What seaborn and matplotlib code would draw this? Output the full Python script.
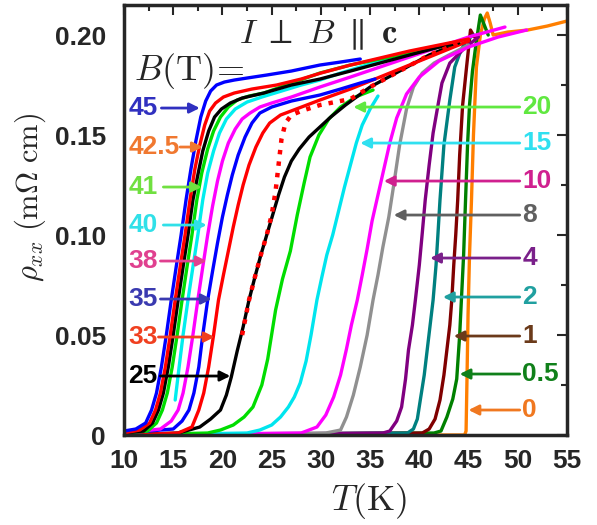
import matplotlib
matplotlib.use("Agg")
import matplotlib.pyplot as plt
import numpy as np
import pandas as pd
import seaborn as sns

# curves: T in K, rho in mOhm cm
t_45 = [10, 11.2, 12.2, 12.8, 13.3, 13.8, 14.3, 14.8, 15.3, 15.8, 16.3, 16.8, 17.3, 17.8, 18.3, 18.8, 19.4, 20.2, 21.2, 22.5, 24.5, 27, 29.9, 32, 34]
r_45 = [.002, .003, .006, .0125, .021, .034, .05, .0675, .084, .1, .1175, .133, .147, .159, .167, .172, .175, .1765, .1775, .1785, .18, .182, .185, .1865, .188]
t_425 = [10, 11.6, 12.6, 13.2, 13.7, 14.2, 14.7, 15.2, 15.7, 16.2, 16.7, 17.2, 17.7, 18.2, 18.7, 19.3, 20.1, 21.2, 23, 25.5, 28, 30, 33, 36, 39, 42, 45]
r_425 = [.001, .0025, .006, .0125, .021, .034, .05, .0675, .084, .1, .1175, .133, .145, .155, .162, .166, .169, .171, .173, .175, .178, .181, .185, .1885, .192, .195, .198]
t_blk = [10, 12.0, 12.9, 13.5, 14.0, 14.5, 15.0, 15.5, 16.0, 16.5, 17.0, 17.5, 18.0, 18.6, 19.2, 19.9, 20.8, 22, 24.2, 27, 29.9, 33, 36, 39, 42, 44]
r_blk = [.001, .002, .006, .0125, .021, .034, .05, .0675, .084, .1, .1175, .13, .142, .152, .159, .163, .166, .1685, .171, .175, .178, .182, .186, .19, .194, .196]
t_41 = [10, 12.4, 13.3, 13.9, 14.4, 14.9, 15.4, 15.9, 16.4, 16.9, 17.4, 17.9, 18.5, 19.1, 19.8, 20.6, 21.5, 22.7, 24.2, 26.5, 29.9, 33, 36, 39, 42, 44]
r_41 = [.001, .002, .006, .0125, .021, .034, .05, .0675, .084, .1, .1175, .131, .143, .152, .159, .164, .1675, .1695, .171, .175, .181, .185, .188, .191, .194, .196]
t_40 = [15.2, 15.6, 16.0, 16.5, 17.0, 17.5, 18.0, 18.5, 19.1, 19.7, 20.4, 21.3, 22.5, 24, 26, 28, 29.9, 32, 34, 36, 37.3]
r_40 = [.0175, .034, .05, .0675, .084, .1, .1175, .131, .142, .151, .158, .163, .1665, .169, .172, .175, .1775, .181, .184, .187, .189]
t_38 = [10, 13.7, 14.8, 15.5, 16.0, 16.5, 17.0, 17.5, 18.0, 18.5, 19.0, 19.5, 20.0, 20.6, 21.3, 22.0, 22.8, 23.8, 25, 27, 29.9, 33, 36, 39, 42, 45, 48.7]
r_38 = [.001, .003, .007, .0125, .021, .034, .05, .0675, .084, .1, .1145, .127, .137, .146, .153, .158, .161, .164, .166, .169, .174, .179, .184, .189, .194, .199, .204]
t_35 = [10, 15.0, 15.9, 16.6, 17.1, 17.6, 18.0, 18.5, 19.0, 19.5, 20.0, 20.5, 21.0, 21.6, 22.3, 23.0, 23.8, 25, 27, 29.9, 32, 34, 35.5]
r_35 = [.001, .003, .007, .0125, .021, .034, .05, .0675, .082, .096, .109, .12, .13, .14, .149, .156, .161, .164, .167, .17, .173, .176, .178]
t_33 = [10, 15.5, 16.9, 17.6, 18.1, 18.6, 19.1, 19.6, 20.1, 20.6, 21.1, 21.6, 22.1, 22.7, 23.4, 24.1, 24.8, 25.9, 27.5, 29.9, 33, 36, 39, 42, 45]
r_33 = [0, .001, .004, .0125, .021, .034, .05, .0675, .08, .092, .104, .115, .125, .135, .144, .151, .156, .16, .163, .1675, .173, .179, .185, .191, .197]
t_25 = [10, 15.5, 17.7, 18.8, 19.8, 20.4, 20.9, 21.5, 22.1, 22.7, 23.3, 23.9, 24.5, 25.1, 25.7, 26.3, 27.0, 27.8, 28.8, 29.9, 31, 32.5, 35, 38, 41, 44]
r_25 = [0, .001, .004, .008, .0125, .02, .029, .042, .054, .0675, .079, .09, .1, .11, .12, .129, .137, .143, .149, .154, .159, .165, .174, .182, .19, .196]
t_dot = [22.0, 22.7, 23.3, 23.9, 24.5, 25.0, 25.4, 25.7, 26.0, 26.4, 27.0, 28, 29.9, 33, 35, 38, 41, 44]
r_dot = [.05, .0675, .079, .09, .1, .11, .122, .135, .148, .156, .16, .162, .165, .168, .174, .182, .19, .196]
t_20 = [10, 18.5, 19.8, 21.1, 22.2, 23.1, 24.0, 24.6, 25.4, 26.1, 26.9, 27.6, 28.3, 28.9, 29.8, 30.8, 32, 33.5, 35.3]
r_20 = [0, .001, .0025, .005, .009, .014, .025, .038, .0625, .078, .092, .11, .126, .139, .15, .158, .164, .169, .1725]
t_15 = [10, 22.5, 23.8, 25.0, 25.9, 26.7, 27.3, 27.9, 28.5, 29.0, 29.6, 30.1, 30.6, 31.2, 31.8, 32.4, 33.0, 33.6, 34.2, 35.0, 35.8]
r_15 = [0, .001, .0025, .005, .009, .014, .019, .026, .037, .05, .0675, .079, .09, .1, .112, .124, .135, .146, .155, .163, .1695]
t_10 = [10, 28.0, 29.6, 30.5, 31.3, 32.0, 32.6, 33.1, 33.7, 34.2, 34.7, 35.2, 35.8, 36.4, 37.0, 37.7, 38.7, 40, 42, 45, 48, 50.9]
r_10 = [0, .001, .004, .01, .019, .03, .043, .055, .0675, .08, .093, .107, .12, .133, .146, .1585, .1705, .179, .187, .194, .199, .2025]
t_8 = [10, 30.5, 32.0, 32.6, 33.3, 34.0, 34.7, 35.3, 35.8, 36.3, 36.9, 37.4, 38.0, 38.7, 39.4, 40.3, 41.5, 43, 45]
r_8 = [0, .001, .0025, .009, .02, .034, .05, .0675, .08, .094, .109, .125, .145, .163, .174, .181, .186, .19, .195]
t_4 = [10, 36.3, 37.0, 37.7, 38.2, 38.6, 38.9, 39.3, 39.6, 40.0, 40.3, 40.6, 41.0, 41.4, 41.9, 42.3, 43.1, 44.5, 46]
r_4 = [0, .001, .002, .007, .014, .028, .0425, .055, .0675, .085, .101, .1175, .135, .151, .165, .176, .186, .193, .199]
t_2 = [10, 38.8, 39.4, 39.8, 40.1, 40.5, 40.8, 41.1, 41.4, 41.7, 41.9, 42.1, 42.5, 43.1, 43.6, 44.2, 44.8, 45.5]
r_2 = [0, .001, .003, .008, .0175, .03, .0425, .055, .0675, .085, .101, .1175, .145, .1675, .184, .192, .1975, .2]
t_1 = [10, 40.3, 41.0, 41.6, 42.1, 42.5, 42.8, 43.1, 43.3, 43.5, 43.7, 43.9, 44.1, 44.4, 44.8, 45.2, 45.6]
r_1 = [0, .001, .003, .008, .0175, .03, .0425, .055, .0675, .085, .1, .1175, .14, .165, .184, .2025, .199]
t_05 = [10, 41.5, 42.2, 42.8, 43.4, 43.8, 44.1, 44.3, 44.5, 44.7, 44.9, 45.1, 45.4, 45.8, 46.2, 46.6, 47.0]
r_05 = [0, .001, .002, .009, .018, .028, .05, .07, .09, .118, .145, .165, .182, .197, .21, .205, .2]
t_0 = [10, 44.6, 44.75, 44.85, 44.95, 45.1, 45.3, 45.5, 45.8, 46.2, 46.6, 46.9, 47.2, 47.5, 49, 51, 53, 55]
r_0 = [0, 0, .002, .03, .06, .09, .1175, .15, .184, .2, .208, .211, .206, .2, .2015, .2025, .2045, .207]

curves = [
    ("0", t_0, r_0, "#ff7f00"), ("0.5", t_05, r_05, "#008000"),
    ("1", t_1, r_1, "#800000"), ("2", t_2, r_2, "#008080"),
    ("4", t_4, r_4, "#800080"), ("8", t_8, r_8, "#909090"),
    ("10", t_10, r_10, "#ff00ff"), ("15", t_15, r_15, "#00e5ee"),
    ("20", t_20, r_20, "#00dd00"), ("25", t_25, r_25, "#000000"),
    ("33", t_33, r_33, "#ff0000"), ("35", t_35, r_35, "#0000ff"),
    ("38", t_38, r_38, "#ff00ff"), ("40", t_40, r_40, "#00eeee"),
    ("41", t_41, r_41, "#00dd00"), ("blk", t_blk, r_blk, "#000000"),
    ("42.5", t_425, r_425, "#ff0000"), ("45", t_45, r_45, "#0000ff"),
]

# labels: text, colour, rho of the arrow, arrow tail T, arrow tip T
left_lab = ["45", "42.5", "41", "40", "38", "35", "33", "25"]
left_col = ["#3030c0", "#f07830", "#70e040", "#30e0e8", "#e0408f", "#3a3ab0", "#f04020", "#000000"]
left_y = [0.1635, 0.144, 0.124, 0.105, 0.087, 0.068, 0.049, 0.0295]
left_tail = [13.8, 15.7, 14.0, 14.0, 13.7, 13.7, 13.5, 13.7]
left_tip = [17.7, 18.0, 17.9, 18.4, 18.4, 18.9, 19.2, 20.8]

right_lab = ["20", "15", "10", "8", "4", "2", "1", "0.5", "0"]
right_col = ["#60e840", "#30e0f0", "#d0208f", "#606060", "#7a208a", "#20a0a0", "#6b3a1a", "#10801a", "#f07820"]
right_y = [0.164, 0.146, 0.127, 0.11, 0.0885, 0.069, 0.0495, 0.0305, 0.0125]
right_tip = [33.3, 34.0, 36.4, 37.4, 41.1, 42.4, 43.5, 44.1, 45.0]

xticks = [10, 15, 20, 25, 30, 35, 40, 45, 50, 55]
yticks = [0, 0.05, 0.10, 0.15, 0.20]
ytick_labels = ["0", "0.05", "0.10", "0.15", "0.20"]

sns.set_style("white")
plt.rcParams["mathtext.fontset"] = "cm"
plt.rcParams["font.family"] = ["Liberation Sans", "DejaVu Sans"]

rows = []
for name, t, r, c in curves:
    for a, b in zip(t, r):
        rows.append((name, a, b))
df = pd.DataFrame(rows, columns=["field", "T", "rho"])
pal = {name: c for name, t, r, c in curves}

fig = plt.figure(figsize=(5.97, 5.25), dpi=100)
ax = fig.add_axes([0.2077, 0.1714, 0.742, 0.819])

sns.lineplot(data=df, x="T", y="rho", hue="field", palette=pal, hue_order=[c[0] for c in curves],
             sort=False, estimator=None, legend=False, linewidth=2.4, ax=ax)
sns.lineplot(x=t_dot, y=r_dot, color="#ff0000", linestyle=(0, (1, 1.6)), linewidth=3.2,
             sort=False, estimator=None, ax=ax)

ax.set_xlim(10, 55)
ax.set_ylim(0, 0.215)
ax.set_xticks(xticks)
ax.set_xticklabels([str(v) for v in xticks])
ax.set_yticks(yticks)
ax.set_yticklabels(ytick_labels)
ax.set_xticks(np.arange(12.5, 55, 5), minor=True)
ax.set_yticks([0.025, 0.075, 0.125, 0.175], minor=True)
ax.tick_params(which="both", direction="in", top=True, right=True, width=1.5, labelsize=19)
ax.tick_params(which="major", length=7)
ax.tick_params(axis="x", which="major", pad=10)
ax.tick_params(axis="y", which="major", pad=13)
ax.tick_params(which="minor", length=4)
for lab in ax.get_xticklabels() + ax.get_yticklabels():
    lab.set_fontweight("bold")
for s in ax.spines.values():
    s.set_linewidth(2.5)
ax.set_xlabel("")
ax.set_ylabel("")

fig.text(0.618, 0.045, r"$T(\mathrm{K})$", fontsize=26, ha="center", va="center")
fig.text(0.05, 0.625, r"$\rho_{xx}\ (\mathrm{m}\Omega\ \mathrm{cm})$", fontsize=22,
         rotation=90, ha="center", va="center")
ax.text(29.7, 0.196, r"$I\;\perp\;B\;\parallel\;\mathbf{c}$", fontsize=25, ha="center", va="baseline")
ax.text(11.0, 0.1775, r"$B(\mathrm{T})\!=$", fontsize=26, ha="left", va="baseline")

for lab, c, y, a, b in zip(left_lab, left_col, left_y, left_tail, left_tip):
    ax.text(10.45, y, lab, color=c, fontsize=19, fontweight="bold", ha="left", va="center")
    ax.annotate("", xy=(b, y), xytext=(a, y),
                arrowprops=dict(arrowstyle="-|>", color=c, lw=2, mutation_scale=15, shrinkA=0, shrinkB=0))
for lab, c, y, b in zip(right_lab, right_col, right_y, right_tip):
    ax.text(50.45, y, lab, color=c, fontsize=19, fontweight="bold", ha="left", va="center")
    ax.annotate("", xy=(b, y), xytext=(50.2, y),
                arrowprops=dict(arrowstyle="-|>", color=c, lw=2, mutation_scale=15, shrinkA=0, shrinkB=0))

fig.savefig("out.png", dpi=100)
